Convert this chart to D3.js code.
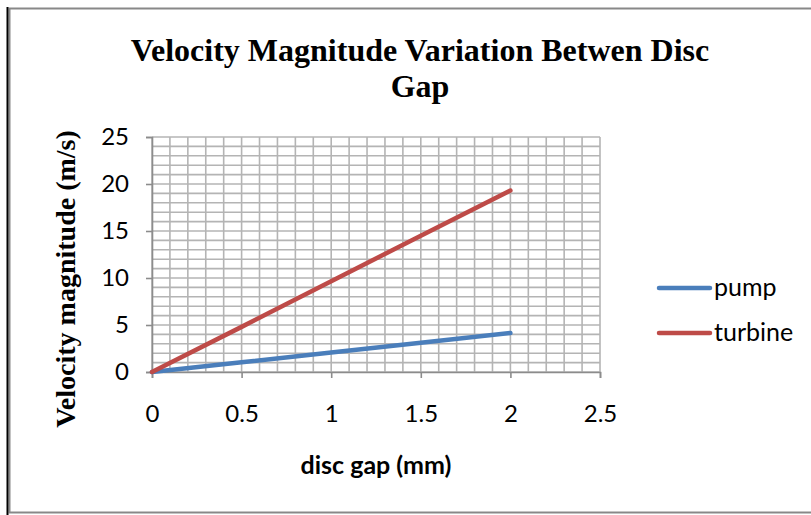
<!DOCTYPE html>
<html><head><meta charset="utf-8">
<script src="https://cdn.jsdelivr.net/npm/d3@7"></script>
<style>body{margin:0;background:#fff}</style>
</head><body>
<svg id="c" width="811" height="515"></svg>
<script>
const discGap = [0, 0.5, 1, 1.5, 2];
const pump = [0, 1.03, 2.07, 3.1, 4.15];
const turbine = [0, 4.8, 9.65, 14.5, 19.3];
const seriesNames = ["pump", "turbine"];
const seriesColors = ["#4a7ebb", "#be4b48"];
const xTicks = [0, 0.5, 1, 1.5, 2, 2.5];
const yTicks = [0, 5, 10, 15, 20, 25];

const svg = d3.select("#c");
const sans = "Lato, 'Open Sans', sans-serif";
// frame
svg.append("rect").attr("x", 9.5).attr("y", 8.5).attr("width", 810).attr("height", 504)
  .attr("fill", "#fff").attr("stroke", "#888").attr("stroke-width", 2);
svg.append("line").attr("x1", 7.5).attr("x2", 7.5).attr("y1", 7).attr("y2", 515)
  .attr("stroke", "#000").attr("stroke-width", 2);

const x = d3.scaleLinear().domain([0, 2.5]).range([152, 600]);
const y = d3.scaleLinear().domain([0, 25]).range([372, 137]);

const g = svg.append("g");
// grid
const gc = "#b4b4b4";
d3.range(0, 2.5001, 0.1).forEach(v => {
  g.append("line").attr("x1", x(v)).attr("x2", x(v)).attr("y1", y(25)).attr("y2", y(0))
    .attr("stroke", gc).attr("stroke-width", 1.6);
});
d3.range(0, 25.001, 1).forEach(v => {
  g.append("line").attr("x1", x(0)).attr("x2", x(2.5)).attr("y1", y(v)).attr("y2", y(v))
    .attr("stroke", gc).attr("stroke-width", 1.6);
});

// axes
const xa = svg.append("g").attr("transform", `translate(0,${y(0)})`)
  .call(d3.axisBottom(x).tickValues(xTicks).tickFormat(d3.format("")).tickSize(6).tickPadding(27));
const ya = svg.append("g").attr("transform", `translate(${x(0)},0)`)
  .call(d3.axisLeft(y).tickValues(yTicks).tickSize(6).tickPadding(17));
[xa, ya].forEach(a => {
  a.selectAll("path,line").attr("stroke", "#8c8c8c").attr("stroke-width", 1.6);
  a.selectAll("text").attr("font-family", sans).attr("font-size", 24).attr("fill", "#000");
});

// lines
const line = d3.line().x((d, i) => x(discGap[i])).y(d => y(d));
[pump, turbine].forEach((s, k) => {
  svg.append("path").attr("d", line(s)).attr("fill", "none")
    .attr("stroke", seriesColors[k]).attr("stroke-width", 4.5).attr("stroke-linecap", "round");
});

// title
const t = svg.append("text").attr("text-anchor", "middle").attr("font-family", "'Liberation Serif', 'Times New Roman', serif")
  .attr("font-weight", "bold").attr("font-size", 32).attr("fill", "#000");
t.append("tspan").attr("x", 420).attr("y", 61).text("Velocity Magnitude Variation Betwen Disc");
t.append("tspan").attr("x", 420).attr("y", 97).text("Gap");

// axis titles
svg.append("text").attr("transform", "translate(75,279) rotate(-90)").attr("text-anchor", "middle")
  .attr("font-family", "'Liberation Serif', serif").attr("font-weight", "bold").attr("font-size", 28)
  .text("Velocity magnitude (m/s)");
svg.append("text").attr("x", 376).attr("y", 474).attr("text-anchor", "middle")
  .attr("font-family", sans).attr("font-weight", "bold").attr("font-size", 25)
  .text("disc gap (mm)");

// legend
seriesNames.forEach((n, k) => {
  const ly = 288 + k * 45;
  svg.append("line").attr("x1", 659).attr("x2", 710).attr("y1", ly).attr("y2", ly)
    .attr("stroke", seriesColors[k]).attr("stroke-width", 4.5).attr("stroke-linecap", "round");
  svg.append("text").attr("x", 714).attr("y", ly + 8).attr("font-family", sans)
    .attr("font-size", 25).text(n);
});
</script>
</body></html>
